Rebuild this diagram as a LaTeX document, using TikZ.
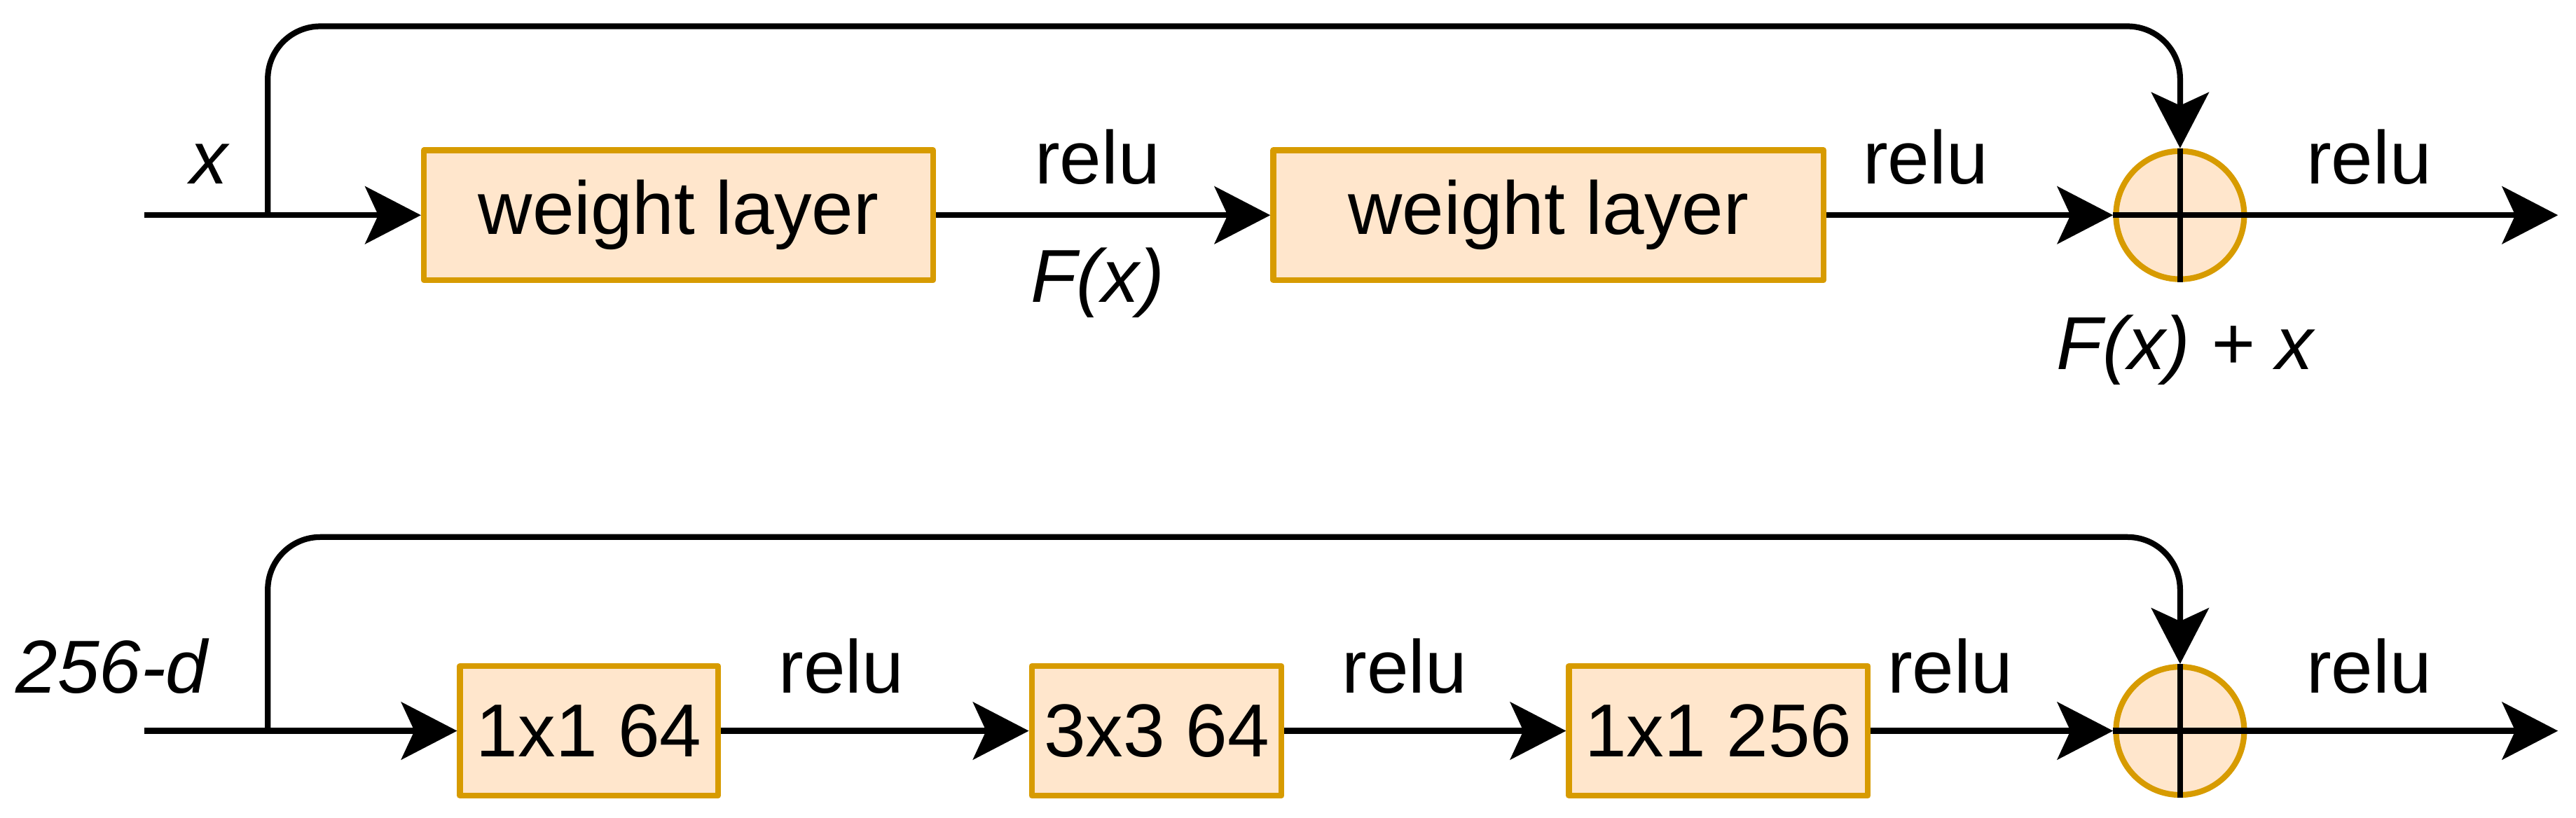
\documentclass[tikz,border=0pt]{standalone}
\usepackage{fontspec}
\setmainfont{Liberation Sans}
\usetikzlibrary{arrows.meta}
\definecolor{layerfill}{HTML}{FFE6CC}
\definecolor{layerdraw}{HTML}{D79B00}
\tikzset{
  layer/.style={draw=layerdraw, fill=layerfill, line width=1pt, minimum height=0.79cm, inner sep=0pt},
  addnode/.style={circle, draw=layerdraw, fill=layerfill, line width=1pt, minimum size=0.78cm, inner sep=0pt},
  conn/.style={line width=1pt, -{Stealth[length=3.4mm, width=3.5mm, inset=0.8mm]}},
  lbl/.style={anchor=base, inner sep=0pt},
}
\begin{document}
\begin{tikzpicture}[line join=round, font=\fontsize{13}{15}\selectfont]
    \useasboundingbox (0,0) rectangle (15.68,4.98);
    % plain residual block
    \coordinate (in1) at (0.88,3.67);
    \coordinate (br1) at (1.63,3.67);
    \coordinate (out1) at (15.57,3.67);
    \node[layer, minimum width=3.10cm] (wl1) at (4.13,3.67) {weight layer};
    \node[layer, minimum width=3.35cm] (wl2) at (9.425,3.67) {weight layer};
    \node[addnode] (add1) at (13.27,3.67) {};
    \draw[line width=1pt] (in1) -- (br1);
    \draw[conn] (br1) -- (wl1);
    \draw[conn] (wl1) -- (wl2);
    \draw[conn] (wl2) -- (add1);
    \draw[conn] (add1) -- (out1);
    \draw[conn, rounded corners=0.32cm] (br1) -- ++(0,1.15) -| (add1);
    \draw[line width=1pt] (add1.north) -- (add1.south) (add1.west) -- (add1.east);
    \node[lbl] (xin) at (1.27,3.86) {\itshape x};
    \node[lbl] (r1) at (6.68,3.86) {relu};
    \node[lbl] (fx) at (6.68,3.14) {\itshape F(x)};
    \node[lbl] (r2) at (11.72,3.86) {relu};
    \node[lbl] (r3) at (14.42,3.86) {relu};
    \node[lbl] (fxx) at (13.30,2.73) {\itshape F(x) + x};
    % bottleneck block
    \coordinate (in2) at (0.88,0.53);
    \coordinate (br2) at (1.63,0.53);
    \coordinate (out2) at (15.57,0.53);
    \node[layer, minimum width=1.57cm] (c1) at (3.585,0.53) {1x1 64};
    \node[layer, minimum width=1.52cm] (c2) at (7.04,0.53) {3x3 64};
    \node[layer, minimum width=1.82cm] (c3) at (10.46,0.53) {1x1 256};
    \node[addnode] (add2) at (13.27,0.53) {};
    \draw[line width=1pt] (in2) -- (br2);
    \draw[conn] (br2) -- (c1);
    \draw[conn] (c1) -- (c2);
    \draw[conn] (c2) -- (c3);
    \draw[conn] (c3) -- (add2);
    \draw[conn] (add2) -- (out2);
    \draw[conn, rounded corners=0.32cm] (br2) -- ++(0,1.18) -| (add2);
    \draw[line width=1pt] (add2.north) -- (add2.south) (add2.west) -- (add2.east);
    \node[lbl] (din) at (0.68,0.76) {\itshape 256-d};
    \node[lbl] (r4) at (5.12,0.76) {relu};
    \node[lbl] (r5) at (8.55,0.76) {relu};
    \node[lbl] (r6) at (11.87,0.76) {relu};
    \node[lbl] (r7) at (14.42,0.76) {relu};
\end{tikzpicture}
\end{document}
